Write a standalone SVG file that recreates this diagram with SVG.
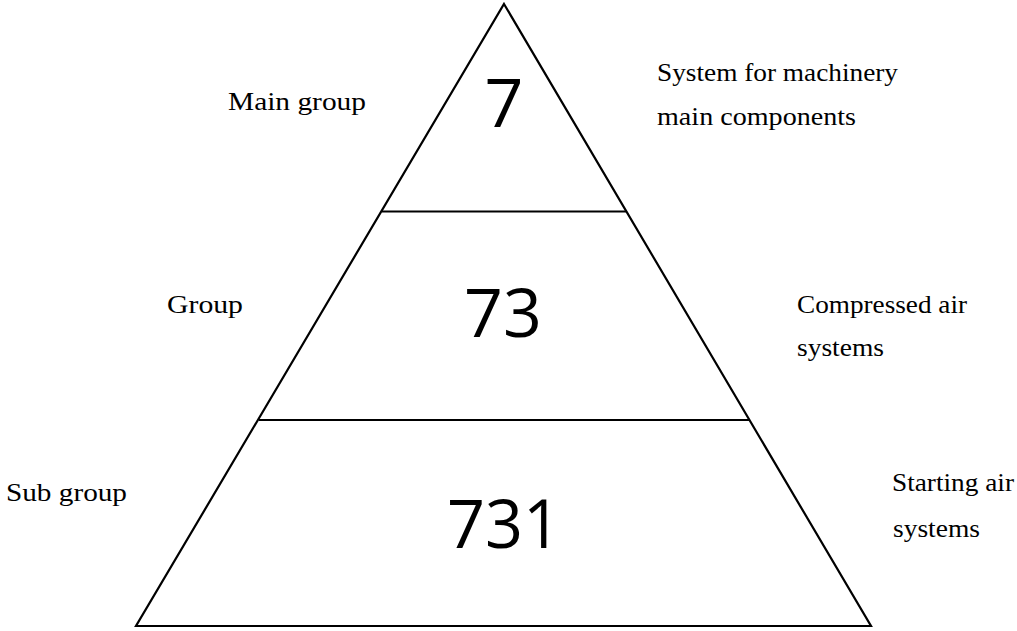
<svg xmlns="http://www.w3.org/2000/svg" width="1017" height="631" viewBox="0 0 1017 631">
<style>
.ln{stroke:#000;stroke-width:2.2;fill:none;stroke-linejoin:miter}
.lb{font-family:"Liberation Serif","Times New Roman",serif;font-size:24.5px;fill:#000}
.num{font-family:"Open Sans","Liberation Sans",sans-serif;font-size:68px;fill:#000;text-anchor:middle}
</style>
<rect width="1017" height="631" fill="#fff"/>
<g id="pyramid">
<polygon class="ln" points="504,4 871,626 136,626"/>
</g>
<g id="connectors">
<line class="ln" x1="382" y1="211.5" x2="626" y2="211.5"/>
<line class="ln" x1="259" y1="420" x2="750" y2="420"/>
</g>
<g id="level1">
<text class="num" x="504" y="127">7</text>
<text class="lb" x="228" y="110" textLength="138" lengthAdjust="spacingAndGlyphs">Main group</text>
<text class="lb" x="657" y="81" textLength="241" lengthAdjust="spacingAndGlyphs">System for machinery</text>
<text class="lb" x="657" y="125" textLength="199" lengthAdjust="spacingAndGlyphs">main components</text>
</g>
<g id="level2">
<text class="num" x="503" y="337">73</text>
<text class="lb" x="167" y="313" textLength="76" lengthAdjust="spacingAndGlyphs">Group</text>
<text class="lb" x="797" y="313" textLength="170" lengthAdjust="spacingAndGlyphs">Compressed air</text>
<text class="lb" x="797" y="356" textLength="87" lengthAdjust="spacingAndGlyphs">systems</text>
</g>
<g id="level3">
<text class="num" x="504" y="548" textLength="114" lengthAdjust="spacingAndGlyphs">731</text>
<text class="lb" x="6" y="501" textLength="121" lengthAdjust="spacingAndGlyphs">Sub group</text>
<text class="lb" x="892" y="491" textLength="122" lengthAdjust="spacingAndGlyphs">Starting air</text>
<text class="lb" x="893" y="537" textLength="87" lengthAdjust="spacingAndGlyphs">systems</text>
</g>
</svg>
